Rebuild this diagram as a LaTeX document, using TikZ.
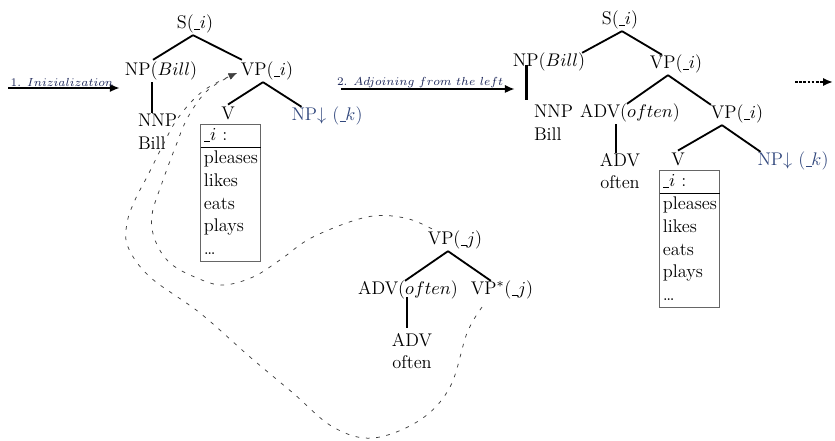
\documentclass[tikz,border=0pt]{standalone}
\usetikzlibrary{arrows.meta,calc}
\definecolor{idx}{RGB}{50,72,125}
\definecolor{lbl}{RGB}{30,40,90}
\newcommand{\ix}[1]{\leavevmode\kern0.3pt\rule[-0.5pt]{3.6pt}{0.45pt}\kern-0.2pt$#1$}
\begin{document}
\begin{tikzpicture}[x=0.6pt,y=-0.6pt,
  font=\fontsize{11}{13.6}\selectfont,
  every node/.style={inner sep=1pt},
  edge/.style={line width=1.1pt},
  stem/.style={line width=1.7pt},
  steparrow/.style={line width=1.2pt,-{Latex[length=6pt,width=5pt]}},
  dashcurve/.style={black!75,line width=0.45pt,dash pattern=on 2.2pt off 4pt,-{Latex[length=5pt,width=4pt]}},
  lexbox/.style={draw=black!60,line width=0.7pt,inner sep=0pt,anchor=north west},
  lab/.style={font=\scriptsize,text=lbl,inner sep=1pt}]
\useasboundingbox (0,0) rectangle (835,441);

% ---------- left tree ----------
\node (s1) at (195,24) {S(\ix{i})};
\node (np1) at (161,71) {NP($Bill$)};
\node (vp1) at (267,71) {VP(\ix{i})};
\node[anchor=north west,align=left] (nnp1) at (136,112) {NNP\\Bill};
\node (v1) at (228,113) {V};
\node[text=idx] (npk1) at (327,116) {NP$\downarrow$ (\ix{k})};
\node[lexbox] (box1) at (200,124) {\begin{tabular}{@{\hspace{2pt}}p{34pt}@{}}\ix{i} :\\\hline pleases\\likes\\eats\\plays\\\dots\end{tabular}};

\draw[edge] ($(s1.south)+(-2,0)$) -- ($(np1.north)+(-8,0)$);
\draw[edge] ($(s1.south)+(-2,0)$) -- ($(vp1.north west)+(3,0)$);
\draw[stem] ($(np1.south)+(-9,0)$) -- ++(0,31);
\draw[edge] ($(vp1.south)+(-4,0)$) -- (v1.north);
\draw[edge] ($(vp1.south)+(-4,0)$) -- ($(npk1.north west)+(12,2)$);

% ---------- right tree ----------
\node (s2) at (620,20) {S(\ix{i})};
\node (np2) at (549,62) {NP($Bill$)};
\node (vp2) at (676,64) {VP(\ix{i})};
\node[anchor=north west,align=left] (nnp2) at (532,103) {NNP\\Bill};
\node (adv2) at (630,113) {ADV($often$)};
\node (vp3) at (737,114) {VP(\ix{i})};
\node[align=center] (advw2) at (620,171) {ADV\\often};
\node (v2) at (678,159) {V};
\node[text=idx] (npk2) at (793,161) {NP$\downarrow$ (\ix{k})};
\node[lexbox] (box2) at (659,170) {\begin{tabular}{@{\hspace{2pt}}p{34pt}@{}}\ix{i} :\\\hline pleases\\likes\\eats\\plays\\\dots\end{tabular}};

\draw[edge] ($(s2.south)+(2,0)$) -- ($(np2.north east)+(-5,2)$);
\draw[edge] ($(s2.south)+(2,0)$) -- ($(vp2.north west)+(14,2)$);
\draw[stem] ($(np2.north west)+(16,14)$) -- ++(0,35);
\draw[edge] ($(vp2.south)+(-8,0)$) -- ($(adv2.north)+(-3,2)$);
\draw[edge] ($(vp2.south)+(-8,0)$) -- ($(vp3.north west)+(2,2)$);
\draw[stem] ($(adv2.south)+(-14,0)$) -- ++(0,29);
\draw[edge] ($(vp3.south)+(-15,0)$) -- (v2.north);
\draw[edge] ($(vp3.south)+(-15,0)$) -- ($(npk2.north west)+(5,2)$);

% ---------- auxiliary tree ----------
\node (vpj) at (455,240) {VP(\ix{j})};
\node (adv3) at (408,290) {ADV($often$)};
\node (vps) at (502,290) {VP$^*$(\ix{j})};
\node[align=center] (advw3) at (412,351) {ADV\\often};

\draw[edge] ($(vpj.south)+(-7,0)$) -- ($(adv3.north)+(-3,2)$);
\draw[edge] ($(vpj.south)+(-7,0)$) -- ($(vps.north west)+(22,2)$);
\draw[stem] ($(adv3.south)+(-1,-4)$) -- ++(0,31);

% ---------- step arrows ----------
\coordinate (a1) at (8,88);
\coordinate (a2) at (341,89);
\coordinate (a3s) at (795,82);
\coordinate (a3e) at (833,82);
\draw[steparrow] (a1) -- ($(np1.west)+(-3,17)$)
  node[lab,pos=0,anchor=south west,yshift=-1pt] {1. $Inizialization$};
\draw[steparrow] (a2) -- ($(np2.west)+(4,27)$)
  node[lab,pos=0,anchor=south west,xshift=-4pt,yshift=-1pt] {2. $Adjoining\ from\ the\ left$};
\draw[line width=1.2pt,dash pattern=on 1.6pt off 0.9pt,-{Latex[length=6pt,width=5pt]}] (a3s) -- (a3e);

% ---------- adjunction links ----------
\draw[dashcurve] plot[smooth,tension=0.6] coordinates {
  ($(vpj.north west)+(6,0)$) (405,218) (367,217) (313,237) (280,260) (253,277) (223,285)
  (197,278) (170,263) (155,240) (152,215) (162,183) (175,148) (188,117) (208,90) ($(vp1.west)+(-2,2)$)};
\draw[dashcurve] plot[smooth,tension=0.6] coordinates {
  ($(vps.south)+(-20,6)$) (467,333) (450,387) (420,420) (373,438) (333,427) (293,393) (250,357)
  (200,313) (150,277) (128,247) (127,223) (135,200) (148,175) (163,145) (178,118) (203,91) ($(vp1.west)+(-2,2)$)};
\end{tikzpicture}
\end{document}
